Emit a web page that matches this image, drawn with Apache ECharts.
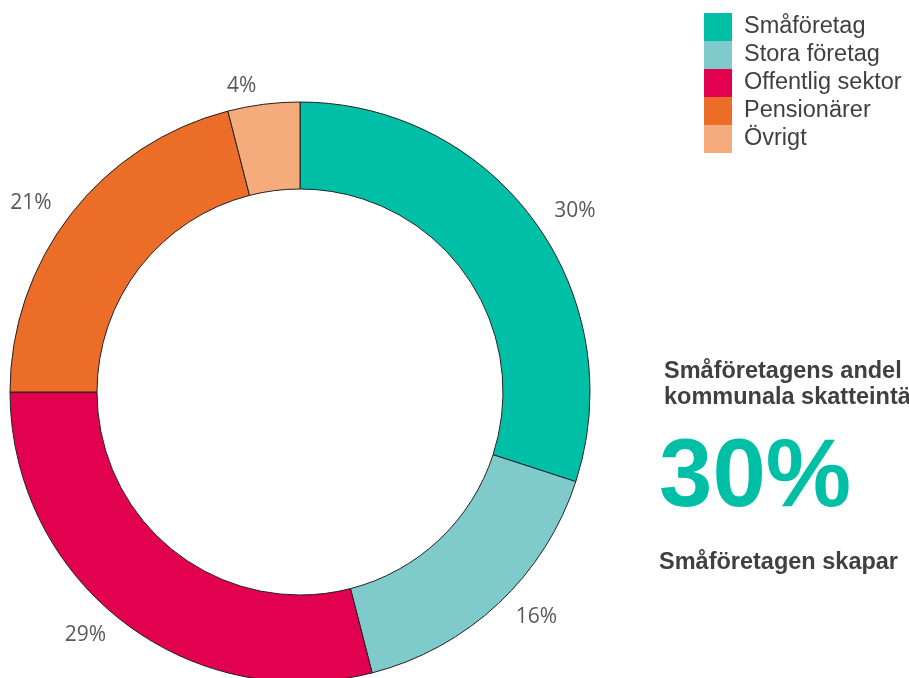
<!DOCTYPE html>
<html><head><meta charset="utf-8">
<script src="https://cdn.jsdelivr.net/npm/echarts@6/dist/echarts.min.js"></script>
<style>html,body{margin:0;padding:0;background:#fff}#c{width:909px;height:678px}</style>
</head><body><div id="c"></div>
<script>
const categories = ['Småföretag', 'Stora företag', 'Offentlig sektor', 'Pensionärer', 'Övrigt'];
const values = [30, 16, 29, 21, 4];
const colors = ['#00BFA7', '#7FCBCB', '#E2014F', '#EB6D28', '#F5AB7C'];
const headline = ['Småföretagens andel av', 'kommunala skatteintäkter'];
const bigValue = '30%';
const footer = 'Småföretagen skapar';

const chart = echarts.init(document.getElementById('c'));
chart.setOption({
  animation: false,
  color: colors,
  legend: {
    orient: 'vertical', left: 699, top: 8,
    icon: 'rect', itemWidth: 28, itemHeight: 28, itemGap: 0,
    itemStyle: { borderWidth: 0 },
    textStyle: { fontFamily: 'Liberation Sans, Arial', fontSize: 23.5, color: '#404040', padding: [0, 0, 0, 7] },
    data: categories
  },
  graphic: [
    { type: 'text', left: 664, top: 359, style: { text: headline.join('\n'), font: 'bold 23.5px "Liberation Sans", Arial', fill: '#404040', lineHeight: 26 } },
    { type: 'text', left: 659, top: 432, style: { text: bigValue, font: 'bold 96px "Liberation Sans", Arial', fill: '#00BFA7' } },
    { type: 'text', left: 659, top: 551, style: { text: footer, font: 'bold 23.5px "Liberation Sans", Arial', fill: '#404040' } }
  ],
  series: [{
    type: 'pie',
    center: [300, 392],
    radius: [203, 290],
    startAngle: 90,
    clockwise: true,
    itemStyle: { borderColor: '#222', borderWidth: 1 },
    label: {
      show: true, position: 'outside', formatter: '{d}%',
      fontFamily: 'Open Sans', fontSize: 21, color: '#595959'
    },
    labelLine: { show: false, length: 18, length2: 0 },
    emphasis: { disabled: true },
    data: categories.map((n, i) => ({ name: n, value: values[i] }))
  }]
});
</script></body></html>
